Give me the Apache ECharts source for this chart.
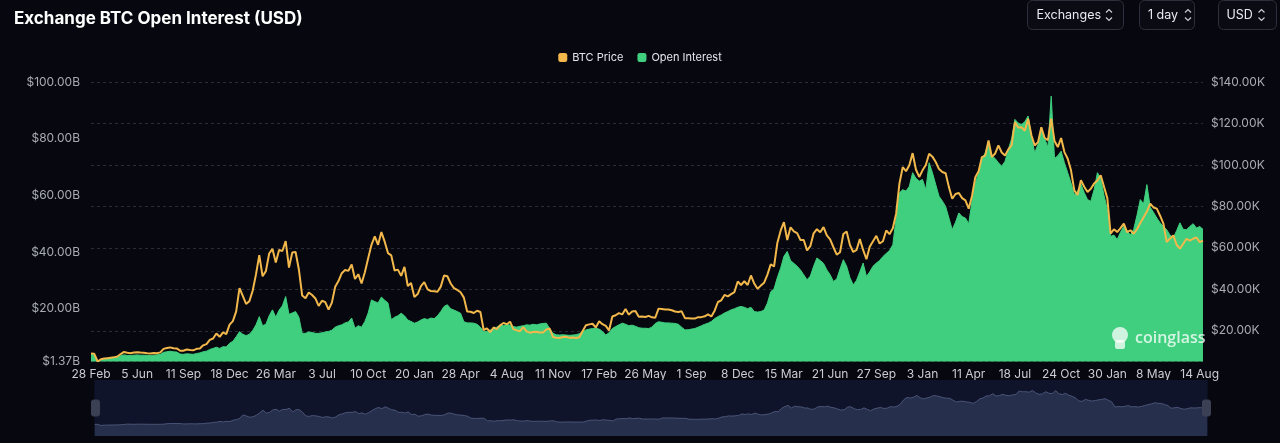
<!DOCTYPE html>
<html><head><meta charset="utf-8">
<script src="https://cdn.jsdelivr.net/npm/echarts@6/dist/echarts.min.js"></script>
<style>html,body{margin:0;padding:0;background:#07080f;}#c{width:1280px;height:443px;}</style>
</head><body><div id="c"></div>
<script>
// x-axis tick labels (one every 14 weekly points)
const tickLabels = ['28 Feb','5 Jun','11 Sep','18 Dec','26 Mar','3 Jul','10 Oct','20 Jan','28 Apr','4 Aug','11 Nov','17 Feb','26 May','1 Sep','8 Dec','15 Mar','21 Jun','27 Sep','3 Jan','11 Apr','18 Jul','24 Oct','30 Jan','8 May','14 Aug'];
const labelStep = 14;

// BTC price, thousands of USD (weekly)
const btcPrice = [
  9.0, 8.9, 5.2, 6.3, 6.6, 6.8, 7.0, 7.2, 7.6, 8.8, 9.8, 9.4, 9.2, 9.5,
  9.7, 9.5, 9.4, 9.2, 9.1, 9.3, 9.2, 9.6, 11.3, 11.7, 12.0, 11.6, 11.5, 10.4,
  10.4, 11.0, 10.7, 10.6, 11.3, 11.5, 13.0, 13.6, 15.6, 16.3, 18.7, 17.1, 19.2, 18.4,
  23.0, 24.7, 29.4, 40.6, 36.8, 33.0, 34.3, 39.3, 47.2, 56.5, 46.3, 48.8, 57.3, 59.5,
  53.0, 59.0, 58.5, 63.3, 50.5, 57.8, 58.0, 49.6, 37.0, 35.7, 38.5, 37.3, 35.6, 32.0,
  34.5, 33.8, 30.2, 33.6, 41.2, 44.0, 47.8, 49.3, 48.9, 52.0, 45.0, 47.3, 42.8, 48.2,
  55.0, 61.5, 65.5, 61.5, 67.6, 63.0, 57.5, 56.4, 49.1, 49.5, 46.5, 50.8, 41.6, 43.1,
  36.3, 37.7, 41.6, 43.5, 40.0, 39.2, 39.1, 38.8, 41.3, 46.7, 46.3, 42.8, 40.6, 39.7,
  38.6, 36.0, 29.3, 29.2, 28.6, 29.7, 29.1, 20.4, 21.2, 19.3, 21.6, 20.8, 22.6, 23.8,
  23.2, 24.4, 20.8, 20.2, 19.8, 21.8, 19.7, 19.1, 19.4, 19.5, 19.2, 19.2, 20.6, 21.1,
  17.0, 16.7, 16.5, 17.0, 17.1, 16.6, 16.8, 16.5, 16.9, 19.9, 22.7, 23.1, 23.4, 21.6,
  24.6, 23.2, 22.4, 20.2, 26.9, 27.5, 28.5, 27.9, 30.5, 27.8, 29.3, 29.5, 26.8, 26.9,
  26.7, 27.2, 26.5, 26.3, 30.7, 30.5, 30.3, 30.3, 29.9, 29.3, 29.1, 29.4, 26.1, 26.1,
  25.9, 25.9, 26.6, 26.6, 27.0, 27.9, 26.9, 29.7, 33.9, 34.7, 37.3, 36.6, 37.7, 38.7,
  43.8, 42.1, 43.9, 42.1, 46.7, 42.8, 40.3, 41.8, 43.2, 47.1, 52.1, 51.0, 62.4, 68.3,
  72.4, 63.8, 69.9, 68.0, 67.1, 63.8, 63.8, 58.8, 60.8, 67.0, 69.0, 67.5, 70.0, 66.0,
  64.1, 60.3, 56.7, 57.9, 66.7, 67.9, 61.4, 58.0, 59.0, 64.2, 59.0, 54.5, 60.5, 63.2,
  65.8, 62.1, 63.2, 68.4, 66.6, 69.5, 76.5, 91.0, 98.9, 97.0, 99.8, 105.7, 97.8, 94.2,
  97.4, 100.0, 105.4, 104.0, 101.4, 98.0, 96.6, 96.0, 89.3, 83.7, 86.0, 86.5, 84.0, 82.9,
  78.9, 85.0, 94.1, 97.0, 103.8, 104.5, 111.8, 103.8, 105.5, 109.4, 106.0, 104.6, 107.5, 109.4,
  120.7, 118.0, 118.2, 116.5, 122.3, 114.3, 109.4, 111.0, 118.2, 113.0, 112.0, 122.3, 111.5, 108.6,
  113.0, 106.2, 103.0, 97.4, 87.7, 85.5, 92.6, 89.5, 86.9, 88.5, 91.0, 92.5, 95.0, 89.5,
  84.0, 66.8, 69.0, 67.6, 69.5, 71.7, 67.6, 68.5, 66.8, 69.0, 72.0, 74.8, 77.5, 81.3,
  79.5, 78.9, 75.5, 71.7, 62.8, 64.5, 66.0, 61.5, 59.6, 62.0, 64.4, 63.5, 64.4, 65.0,
  62.8, 63.5
];

// Open interest, billions of USD (weekly)
const openInterest = [
  4.0, 3.8, 1.37, 2.0, 2.3, 2.5, 2.6, 2.8, 3.0, 3.4, 3.7, 3.5, 3.5, 3.6,
  3.7, 3.6, 3.6, 3.5, 3.5, 3.6, 3.7, 3.9, 4.6, 4.8, 5.0, 4.8, 4.7, 4.0,
  3.9, 4.1, 4.0, 3.9, 4.2, 4.4, 4.8, 5.0, 5.6, 6.0, 6.4, 6.0, 6.6, 6.5,
  7.8, 8.5, 10.1, 11.9, 11.0, 10.5, 11.0, 12.3, 14.3, 17.2, 14.0, 14.5, 17.5, 19.6,
  17.0, 19.5, 21.0, 24.3, 18.0, 18.5, 19.0, 17.0, 11.3, 11.3, 11.8, 11.6, 11.3, 11.3,
  11.5, 11.8, 12.0, 12.4, 13.5, 14.0, 14.3, 15.0, 15.3, 16.7, 13.1, 14.0, 13.5, 15.5,
  18.5, 23.1, 22.5, 22.0, 24.1, 23.0, 22.0, 16.1, 17.0, 17.5, 18.4, 17.5, 16.0, 15.5,
  14.9, 15.3, 16.0, 16.5, 16.2, 16.7, 16.5, 17.5, 19.0, 20.8, 21.4, 20.0, 19.5, 19.0,
  18.4, 15.4, 15.0, 15.0, 14.9, 14.5, 13.5, 11.9, 12.0, 12.5, 13.0, 13.5, 14.3, 14.0,
  14.5, 14.2, 13.7, 13.5, 13.8, 14.0, 14.3, 14.2, 14.5, 14.3, 14.6, 14.8, 14.9, 13.0,
  11.3, 10.8, 10.7, 10.8, 10.7, 10.6, 10.7, 10.8, 11.2, 11.9, 12.5, 12.8, 13.0, 13.1,
  12.8, 12.0, 10.7, 11.5, 13.0, 13.7, 14.3, 14.9, 14.5, 14.0, 14.2, 13.8, 13.3, 13.1,
  13.1, 13.0, 13.5, 14.8, 15.4, 15.2, 15.0, 15.0, 14.9, 14.8, 14.5, 13.5, 12.5, 12.6,
  12.8, 13.0, 13.5, 14.0, 14.5, 14.9, 15.5, 16.5, 17.2, 17.8, 18.5, 19.0, 19.6, 20.0,
  20.5, 20.8, 20.5, 20.0, 20.5, 19.0, 18.8, 19.0, 19.5, 22.0, 26.0, 27.0, 31.0, 34.3,
  38.5, 40.2, 37.0, 36.0, 35.0, 33.7, 32.0, 30.2, 31.5, 35.0, 37.9, 37.0, 36.0, 33.7,
  32.0, 29.6, 30.5, 34.0, 37.3, 35.0, 31.0, 28.4, 30.0, 33.0, 36.1, 31.4, 33.0, 35.0,
  36.1, 37.0, 38.4, 39.5, 40.5, 42.6, 52.0, 60.9, 62.0, 61.5, 63.2, 68.0, 66.0, 65.0,
  65.6, 62.0, 71.5, 68.0, 63.8, 59.7, 58.0, 56.1, 52.0, 47.9, 50.5, 53.8, 52.5, 52.0,
  50.0, 58.0, 64.4, 68.0, 72.6, 75.0, 78.6, 74.0, 73.0, 71.5, 70.3, 72.0, 76.2, 80.0,
  86.8, 85.5, 85.0, 86.0, 88.0, 81.0, 75.0, 78.0, 84.0, 80.0, 77.0, 95.0, 73.0, 74.0,
  75.6, 71.5, 68.0, 64.4, 60.3, 61.5, 64.0, 61.0, 58.5, 57.9, 62.0, 68.0, 66.0, 60.0,
  55.0, 45.5, 46.0, 44.4, 47.0, 49.1, 47.5, 46.0, 48.0, 53.0, 58.5, 57.0, 63.8, 55.8,
  54.0, 52.0, 50.3, 49.0, 47.9, 46.0, 45.0, 47.5, 50.3, 48.0, 47.9, 49.0, 50.0, 48.5,
  49.0, 48.0
];

// weekly date categories
const startDate = Date.UTC(2020, 1, 28);
const categories = btcPrice.map((_, i) => {
  const d = new Date(startDate + (i * 7 + (i >= 96 ? 7 : 0)) * 86400000);
  return d.toISOString().slice(0, 10);
});

const font = 'Inter, "Noto Sans", sans-serif';
const chart = echarts.init(document.getElementById('c'), null, {renderer: 'canvas'});

function chevrons(cx) {
  return [
    {type: 'polyline', z: 10, shape: {points: [[cx - 3, 12.5], [cx, 9.5], [cx + 3, 12.5]]}, style: {stroke: '#c9ccd4', lineWidth: 1.2, fill: null}},
    {type: 'polyline', z: 10, shape: {points: [[cx - 3, 17.5], [cx, 20.5], [cx + 3, 17.5]]}, style: {stroke: '#c9ccd4', lineWidth: 1.2, fill: null}}
  ];
}
function button(x, w, label, tx, cx) {
  return [
    {type: 'rect', z: 10, shape: {x: x, y: 0.5, width: w, height: 29, r: 5}, style: {fill: '#0a0b13', stroke: '#2d303c', lineWidth: 1}},
    {type: 'text', z: 10, x: tx, y: 15, style: {text: label, fill: '#e9ebf0', fontSize: 12.5, fontFamily: font, align: 'left', verticalAlign: 'middle'}}
  ].concat(chevrons(cx));
}

const option = {
  backgroundColor: '#07080f',
  animation: false,
  title: {
    text: 'Exchange BTC Open Interest (USD)', left: 9, top: 5,
    textStyle: {color: '#ffffff', fontSize: 17, fontWeight: 700, fontFamily: font}
  },
  legend: {
    top: 47, left: 'center', itemWidth: 9, itemHeight: 9, itemGap: 14, icon: 'roundRect',
    data: ['BTC Price', 'Open Interest'],
    textStyle: {color: '#e4e6ec', fontSize: 11, fontFamily: font}
  },
  grid: {left: 91, right: 77, top: 82, bottom: 81.5, containLabel: false},
  xAxis: {
    type: 'category', data: categories, boundaryGap: false,
    axisLine: {show: false}, axisTick: {show: false},
    axisLabel: {
      interval: labelStep - 1, color: '#c9ccd3', fontSize: 12, fontFamily: font, margin: 7,
      formatter: (v, idx) => tickLabels[Math.round(idx / labelStep)] || ''
    },
    splitLine: {show: false}
  },
  yAxis: [
    {
      type: 'value', position: 'left', min: 1.37, max: 100, splitNumber: 5,
      axisLine: {show: false}, axisTick: {show: false}, splitLine: {show: false},
      axisLabel: {color: '#a8abb4', fontSize: 12, fontFamily: font, margin: 11,
        formatter: v => '$' + v.toFixed(2) + 'B'}
    },
    {
      type: 'value', position: 'right', min: 5.2, max: 140, splitNumber: 7,
      axisLine: {show: false}, axisTick: {show: false},
      splitLine: {show: true, lineStyle: {color: '#2a2d37', type: [3, 3], width: 1}},
      axisLabel: {color: '#a8abb4', fontSize: 12, fontFamily: font, margin: 8, showMinLabel: false,
        formatter: v => '$' + v.toFixed(2) + 'K'}
    }
  ],
  dataZoom: [{
    type: 'slider', xAxisIndex: 0, left: 92, right: 75, top: 380, height: 56,
    start: 0, end: 100, showDetail: false, brushSelect: false, moveHandleSize: 0,
    backgroundColor: '#10142a', borderColor: 'transparent', fillerColor: 'rgba(0,0,0,0)',
    dataBackground: {lineStyle: {color: '#4a5578', width: 1, opacity: 1}, areaStyle: {color: '#262f4b', opacity: 1}},
    selectedDataBackground: {lineStyle: {color: '#4a5578', width: 1, opacity: 1}, areaStyle: {color: '#262f4b', opacity: 1}},
    handleIcon: 'path://M2,0 L6,0 Q8,0 8,2 L8,14 Q8,16 6,16 L2,16 Q0,16 0,14 L0,2 Q0,0 2,0 Z',
    handleSize: 16,
    handleStyle: {color: '#3b4055', borderColor: '#3b4055'},
    emphasis: {handleStyle: {color: '#3b4055', borderColor: '#3b4055'}}
  }],
  series: [
    {
      name: 'BTC Price', type: 'line', yAxisIndex: 1, data: btcPrice, z: 3,
      showSymbol: false, symbol: 'none', smooth: false,
      itemStyle: {color: '#f2b84b'},
      lineStyle: {color: '#f2b84b', width: 2}
    },
    {
      name: 'Open Interest', type: 'line', yAxisIndex: 0, data: openInterest, z: 2,
      showSymbol: false, symbol: 'none', smooth: false,
      itemStyle: {color: '#3fcf7f'},
      lineStyle: {color: '#3fcf7f', width: 1},
      areaStyle: {color: '#3fcf7f', opacity: 1}
    }
  ],
  graphic: [].concat(
    button(1027.5, 96, 'Exchanges', 1036.5, 1109),
    button(1139.5, 55, '1 day', 1148, 1188),
    button(1218.5, 58, 'USD', 1226.5, 1261.5),
    [
      {type: 'circle', z: 20, shape: {cx: 1120, cy: 335, r: 8}, style: {fill: 'rgba(255,255,255,0.75)'}},
      {type: 'rect', z: 20, shape: {x: 1115, y: 340, width: 10, height: 9, r: 2}, style: {fill: 'rgba(255,255,255,0.75)'}},
      {type: 'text', z: 20, x: 1135, y: 338, style: {text: 'coinglass', fill: 'rgba(255,255,255,0.78)', fontSize: 16, fontWeight: 600, fontFamily: '"Open Sans", sans-serif', align: 'left', verticalAlign: 'middle'}}
    ]
  )
};
chart.setOption(option);
</script>
</body></html>
